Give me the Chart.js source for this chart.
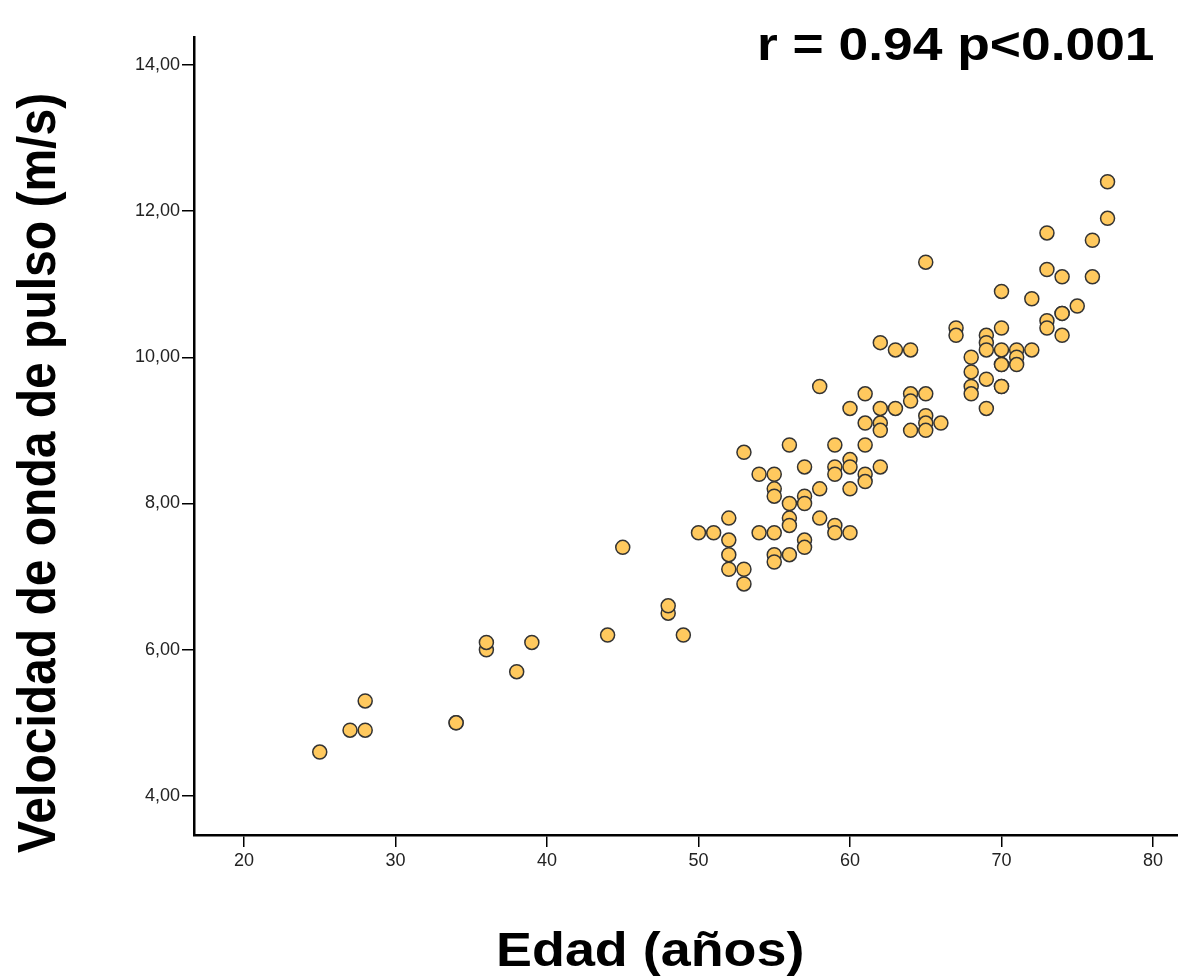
<!DOCTYPE html>
<html>
<head>
<meta charset="utf-8">
<script src="https://cdn.jsdelivr.net/npm/chart.js@4.4.1/dist/chart.umd.min.js"></script>
<style>
  html, body { margin: 0; padding: 0; background: #fff; }
  canvas { display: block; }
</style>
</head>
<body>
<canvas id="pwvChart" width="1178" height="978"></canvas>
<script>
// edad (años) y velocidad de onda de pulso (m/s)
const ages = [
  25, 27, 28, 28, 34, 34, 36, 36, 38, 39, 44, 45, 48, 48, 49,
  50, 51, 52, 52, 52, 52, 53, 53, 53, 54, 54,
  55, 55, 55, 55, 55, 55, 56, 56, 56, 56, 56,
  57, 57, 57, 57, 57, 58, 58, 58, 59, 59, 59, 59, 59,
  60, 60, 60, 60, 60, 61, 61, 61, 61, 61,
  62, 62, 62, 62, 62, 63, 63, 64, 64, 64, 64,
  65, 65, 65, 65, 65, 66, 67, 67, 68, 68, 68, 68,
  69, 69, 69, 69, 69, 70, 70, 70, 70, 70, 70, 70,
  71, 71, 71, 72, 72, 73, 73, 73, 73,
  74, 74, 74, 74, 75, 76, 76, 77, 77
];
const pwv = [
  4.6, 4.9, 4.9, 5.3, 5.0, 5.0, 6.0, 6.1, 5.7, 6.1, 6.2, 7.4, 6.5, 6.6, 6.2,
  7.6, 7.6, 7.8, 7.5, 7.3, 7.1, 8.7, 7.1, 6.9, 8.4, 7.6,
  8.4, 8.2, 8.1, 7.6, 7.3, 7.2, 8.8, 8.0, 7.8, 7.7, 7.3,
  8.5, 8.1, 8.0, 7.5, 7.4, 9.6, 8.2, 7.8, 8.8, 8.5, 8.4, 7.7, 7.6,
  9.3, 8.6, 8.5, 8.2, 7.6, 9.5, 9.1, 8.8, 8.4, 8.3,
  10.2, 9.3, 9.1, 9.0, 8.5, 10.1, 9.3, 10.1, 9.5, 9.4, 9.0,
  11.3, 9.5, 9.2, 9.1, 9.0, 9.1, 10.4, 10.3, 10.0, 9.8, 9.6, 9.5,
  10.3, 10.2, 10.1, 9.7, 9.3, 10.9, 10.4, 10.1, 9.9, 9.9, 9.6, 9.6,
  10.1, 10.0, 9.9, 10.8, 10.1, 11.7, 11.2, 10.5, 10.4,
  11.1, 10.6, 10.6, 10.3, 10.7, 11.6, 11.1, 12.4, 11.9
];

const xTickValues = [20, 30, 40, 50, 60, 70, 80];
const yTickValues = [4, 6, 8, 10, 12, 14];

const xTitle = "Edad (años)";
const yTitle = "Velocidad de onda de pulso (m/s)";
const statsText = "r = 0.94 p<0.001";

const fontFamily = '"Liberation Sans", Arial, sans-serif';

const points = ages.map((a, i) => ({ x: a, y: pwv[i] }));

// the source image is a bit wider than tall, so big text gets stretched
const drawText = (ctx, text, x, y, size, sx, rotate) => {
  ctx.save();
  ctx.translate(x, y);
  ctx.scale(sx, 1);
  if (rotate) ctx.rotate(-Math.PI / 2);
  ctx.font = `bold ${size}px ${fontFamily}`;
  ctx.fillStyle = "#000";
  ctx.textAlign = "left";
  ctx.textBaseline = "alphabetic";
  ctx.fillText(text, 0, 0);
  ctx.restore();
};

const titlesPlugin = {
  id: "titles",
  afterDraw(chart) {
    const ctx = chart.ctx;
    drawText(ctx, yTitle, 55, 853, 48, 1.1, true);
    drawText(ctx, xTitle, 496, 966, 49, 1.1, false);
    drawText(ctx, statsText, 757, 60, 46, 1.16, false);
  }
};

const tickGrid = {
  drawOnChartArea: false,
  drawTicks: true,
  tickLength: 12,
  color: "#000",
  lineWidth: 1.5
};

new Chart(document.getElementById("pwvChart").getContext("2d"), {
  type: "scatter",
  data: {
    datasets: [{
      label: "VOP",
      data: points,
      pointRadius: 7,
      pointHoverRadius: 7,
      pointBackgroundColor: "#FFC95E",
      pointBorderColor: "#333333",
      pointBorderWidth: 1.5
    }]
  },
  options: {
    responsive: false,
    animation: false,
    devicePixelRatio: 1,
    layout: {
      autoPadding: false,
      padding: { top: 37, right: 0, bottom: 0, left: 0 }
    },
    plugins: {
      legend: { display: false },
      tooltip: { enabled: false }
    },
    scales: {
      x: {
        type: "linear",
        min: 16.7,
        max: 81.65,
        afterBuildTicks: s => { s.ticks = xTickValues.map(v => ({ value: v })); },
        afterFit: s => {
          s.height = 143;
          s.paddingLeft = 0;
          s.paddingRight = 0;
        },
        grid: tickGrid,
        border: { color: "#000", width: 2.5 },
        ticks: {
          color: "#222",
          padding: 3,
          maxRotation: 0,
          font: { family: fontFamily, size: 18 }
        }
      },
      y: {
        type: "linear",
        min: 3.466,
        max: 14.38,
        afterBuildTicks: s => { s.ticks = yTickValues.map(v => ({ value: v })); },
        afterFit: s => {
          s.width = 194;
          s.paddingTop = 0;
          s.paddingBottom = 0;
        },
        grid: tickGrid,
        border: { color: "#000", width: 2.5 },
        ticks: {
          color: "#222",
          padding: 2,
          font: { family: fontFamily, size: 18 },
          callback: v => v.toFixed(2).replace(".", ",")
        }
      }
    }
  },
  plugins: [titlesPlugin]
});
</script>
</body>
</html>
